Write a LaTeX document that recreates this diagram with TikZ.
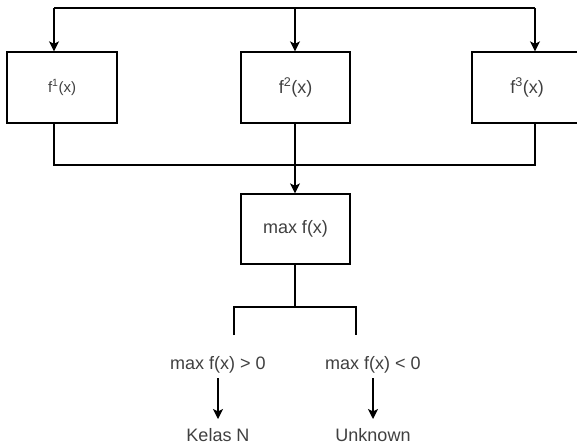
\documentclass[tikz,border=0pt]{standalone}
\usepackage{fontspec}
\setmainfont{Liberation Sans}
\usetikzlibrary{arrows.meta}
\definecolor{txt}{HTML}{404040}
\tikzset{
  box/.style={draw=black, line width=1.3pt, minimum width=110pt, minimum height=71pt, inner sep=0pt, text=txt, font=\fontsize{18}{21}\selectfont},
  lbl/.style={inner sep=0pt, text=txt, font=\fontsize{18}{21}\selectfont},
  ln/.style={draw=black, line width=1.3pt},
  arr/.style={ln, -{Stealth[length=10pt, width=10pt, inset=2.5pt]}}
}
\begin{document}
\begin{tikzpicture}[x=1pt, y=-1pt]
\useasboundingbox (0,0) rectangle (577,445);
\clip (0,0) rectangle (577,445);
% boxes
\node[box] (f1) at (62,87.5) {{\fontsize{15}{18}\selectfont f\textsuperscript{1}(x)}};
\node[box, minimum width=109pt] (f2) at (295.5,87.5) {f\textsuperscript{2}(x)};
\node[box] (f3) at (527,87.5) {f\textsuperscript{3}(x)};
\node[box, minimum width=109pt, minimum height=70pt] (mx) at (295.5,229) {max f(x)};
% top distribution
\coordinate (tl) at (54,8);
\coordinate (tm) at (295,8);
\coordinate (tr) at (535,8);
\draw[ln] (tl) -- (tr);
\draw[arr] (tl) -- (tl |- f1.north);
\draw[arr] (tm) -- (tm |- f2.north);
\draw[arr] (tr) -- (tr |- f3.north);
% collection
\coordinate (bl) at (54,165);
\coordinate (br) at (535,165);
\draw[ln] (bl |- f1.south) -- (bl) -- (br) -- (br |- f3.south);
\draw[arr] (tm |- f2.south) -- (tm |- mx.north);
% split
\coordinate (sm) at (295,307);
\coordinate (sl) at (234,307);
\coordinate (sr) at (356,307);
\coordinate (sle) at (234,335);
\coordinate (sre) at (356,335);
\draw[ln] (sm |- mx.south) -- (sm);
\draw[ln] (sle) -- (sl) -- (sr) -- (sre);
% outcomes
\node[lbl] (c1) at (218,365) {max f(x) > 0};
\node[lbl] (c2) at (373,365) {max f(x) < 0};
\node[lbl] (k1) at (218,435) {Kelas N};
\node[lbl] (k2) at (373,435) {Unknown};
\draw[arr, shorten <=13pt, shorten >=16pt] (c1.center) -- (k1.center);
\draw[arr, shorten <=13pt, shorten >=16pt] (c2.center) -- (k2.center);
\end{tikzpicture}
\end{document}
